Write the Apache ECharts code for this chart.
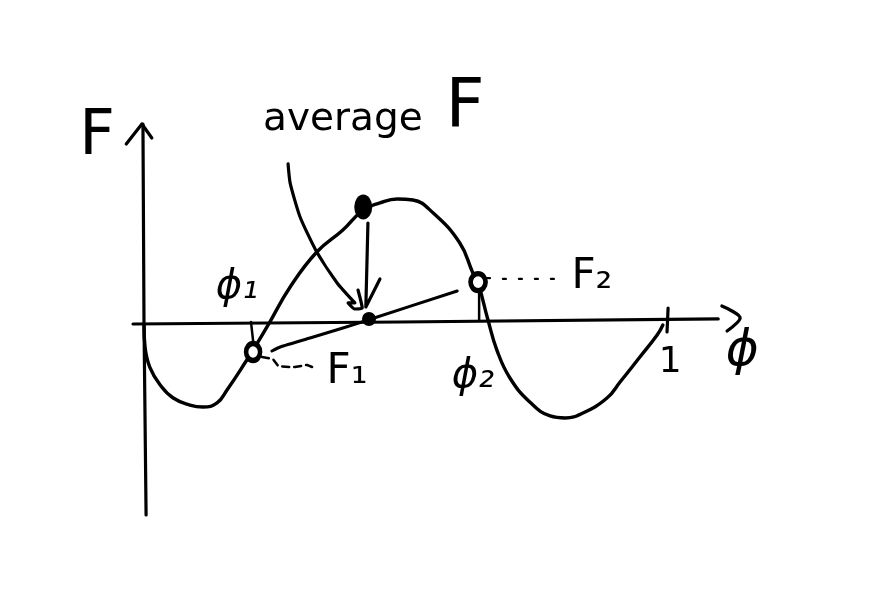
<!DOCTYPE html>
<html><head><meta charset="utf-8">
<style>html,body{margin:0;padding:0;background:#fff}#c{width:895px;height:594px}</style>
<script src="https://cdn.jsdelivr.net/npm/echarts@6/dist/echarts.min.js"></script>
</head><body><div id="c"></div>
<script>
// All values are in chart units: phi (0..1 across the period), F (peak = 1)
const curvePhi=[0,.002,.011,.031,.056,.088,.113,.140,.159,.197,.209,.241,.280,.331,.381,.420,.452,.485,.515,.554,.605,.630,.640,.659,.676,.701,.739,.778,.807,.841,.887,.912,.950,.983,.994];
const curveF=[-.02,-.195,-.358,-.504,-.610,-.667,-.683,-.650,-.545,-.301,-.220,.008,.293,.577,.756,.919,.976,1.008,1,.894,.650,.407,.325,.024,-.220,-.447,-.642,-.756,-.772,-.732,-.610,-.480,-.276,-.098,-.016];
const xAxisPhi=[-.021,.49,1.1];
const xAxisF=[-.008,.008,.033];
const yAxisPhi=[-.002,0,.004];
const yAxisF=[1.618,0,-1.561];
const yArrowPhi=[-.034,-.004,.015];
const yArrowF=[1.455,1.618,1.504];
const xArrowPhi=[1.107,1.142,1.117];
const xArrowF=[.138,.041,-.065];
const tickPhi=[1.004,1.002];
const tickF=[.122,-.073];
const drop1Phi=[.205,.211];
const drop1F=[.008,-.22];
const drop2Phi=[.642,.642];
const drop2F=[.268,.024];
const chordPhi=[.245,.261,.318,.381,.429,.600];
const chordF=[-.228,-.195,-.122,-.041,.024,.260];
const pointerPhi=[.276,.280,.299,.331,.370,.404,.391,.404,.418,.410];
const pointerF=[1.293,1.138,.862,.577,.325,.163,.163,.114,.122,.268];
const downPhi=[.429,.425,.452];
const downF=[.813,.130,.358];
const guide1Phi=[.226,.247,.257,.280,.289,.312,.322];
const guide1F=[-.276,-.293,-.350,-.358,-.358,-.341,-.358];
const guide2Phi=[.657,.686,.795];
const guide2F=[.366,.358,.358];
const peakDot=[.420,.943];
const averageDot=[.431,.033];
const phase1Dot=[.209,-.236];
const phase2Dot=[.640,.333];
const labelTexts=['average','F','F','ϕ₁','F₁','ϕ₂','F₂','1','ϕ'];
const labelPhi=[.381,.615,-.090,.178,.389,.630,.858,1.008,1.146];
const labelF=[1.65,1.74,1.505,.285,-.398,-.439,.374,-.32,-.236];
const labelSizes=[39,68,62,40,42,40,42,36,50];
const labelStyles=['normal','normal','normal','italic','normal','italic','normal','normal','italic'];
const phiRange=[-.27586,1.4387];
const fRange=[-2.20325,2.62602];

const zip=(a,b)=>a.map((v,i)=>[v,b[i]]);
const ink='#000';
const stroke=(xs,ys,extra={})=>({type:'line',data:zip(xs,ys),symbol:'none',silent:true,
  smooth:extra.smooth||false,lineStyle:{color:ink,width:extra.width||3.2,type:extra.type||'solid',cap:'round',join:'round'}});
const dot=(p,size,filled)=>({type:'scatter',data:[p],symbol:'circle',symbolSize:size,silent:true,z:5,
  itemStyle:filled?{color:ink,opacity:1}:{color:'#fff',borderColor:ink,borderWidth:5,opacity:1}});

const chart=echarts.init(document.getElementById('c'),null,{renderer:'canvas'});
chart.setOption({
  animation:false,backgroundColor:'#fff',tooltip:{show:false},legend:{show:false},
  grid:{left:0,top:0,width:895,height:594,containLabel:false},
  xAxis:{type:'value',min:phiRange[0],max:phiRange[1],show:false},
  yAxis:{type:'value',min:fRange[0],max:fRange[1],show:false},
  series:[
    stroke(curvePhi,curveF,{smooth:.45,width:3.4}),
    stroke(xAxisPhi,xAxisF),stroke(yAxisPhi,yAxisF),
    stroke(yArrowPhi,yArrowF),stroke(xArrowPhi,xArrowF,{smooth:.3}),
    stroke(tickPhi,tickF),stroke(drop1Phi,drop1F,{width:2.5}),stroke(drop2Phi,drop2F,{width:2.5}),
    stroke(chordPhi,chordF,{smooth:.2,width:3}),
    stroke(pointerPhi,pointerF,{smooth:.2}),
    stroke(downPhi,downF),
    stroke(guide1Phi,guide1F,{width:2.5,type:[7,5]}),
    stroke(guide2Phi,guide2F,{width:2.2,type:[3,13]}),
    dot(peakDot,[18,25],true),dot(averageDot,14,true),dot(phase1Dot,[14,17],false),dot(phase2Dot,[15,17],false),
    {type:'scatter',symbol:'circle',symbolSize:1,silent:true,z:6,itemStyle:{color:'rgba(0,0,0,0)',opacity:1},
     data:labelTexts.map((t,i)=>({value:[labelPhi[i],labelF[i]],
       label:{show:true,position:'inside',formatter:t,color:ink,fontSize:labelSizes[i],fontStyle:labelStyles[i],
              fontFamily:'"DejaVu Sans","Noto Sans",sans-serif',align:'center',verticalAlign:'middle'}}))}
  ]
});
</script></body></html>
